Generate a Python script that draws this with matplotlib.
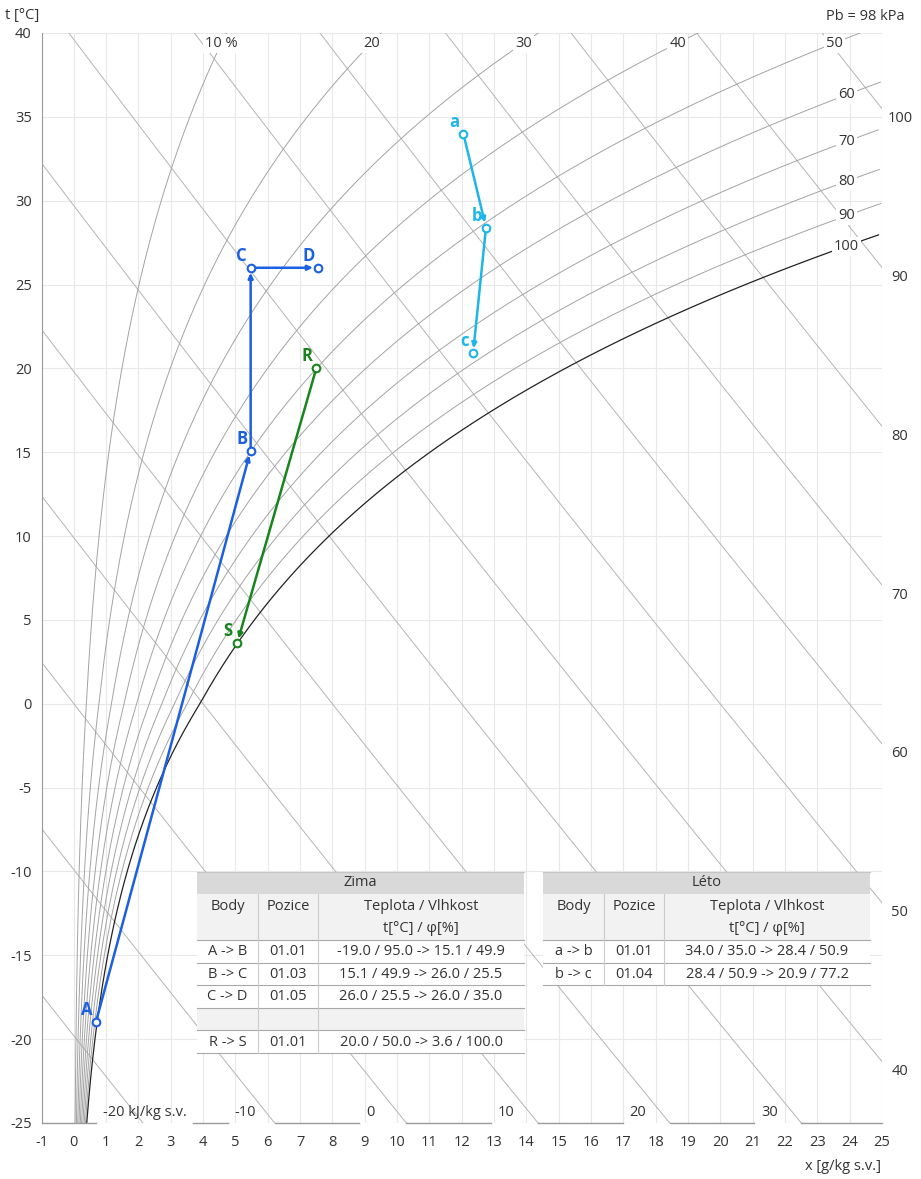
import numpy as np
import matplotlib
matplotlib.use('Agg')
import matplotlib.pyplot as plt
from matplotlib.patches import Rectangle

plt.rcParams['font.family'] = ['Open Sans', 'DejaVu Sans']
plt.rcParams['axes.unicode_minus'] = False

P_B = 98.0  # kPa

# process points: x [g/kg s.v.], t [°C]
zima_names = ['A', 'B', 'C', 'D']
zima_x = [0.68, 5.47, 5.47, 7.55]
zima_t = [-19.0, 15.1, 26.0, 26.0]
rs_names = ['R', 'S']
rs_x = [7.5, 5.05]
rs_t = [20.0, 3.6]
leto_names = ['a', 'b', 'c']
leto_x = [12.05, 12.75, 12.35]
leto_t = [34.0, 28.4, 20.9]

rh_levels = [10, 20, 30, 40, 50, 60, 70, 80, 90, 100]
h_levels = [-20, -10, 0, 10, 20, 30, 40, 50, 60, 70, 80, 90, 100]

x_ticks = list(range(-1, 26))
t_ticks = list(range(-25, 41, 5))

table_head = ['Body', 'Pozice', 'Teplota / Vlhkost\nt[°C] / φ[%]']
zima_rows = [['A -> B', '01.01', '-19.0 / 95.0 -> 15.1 / 49.9'],
             ['B -> C', '01.03', '15.1 / 49.9 -> 26.0 / 25.5'],
             ['C -> D', '01.05', '26.0 / 25.5 -> 26.0 / 35.0'],
             None,
             ['R -> S', '01.01', '20.0 / 50.0 -> 3.6 / 100.0']]
leto_rows = [['a -> b', '01.01', '34.0 / 35.0 -> 28.4 / 50.9'],
             ['b -> c', '01.04', '28.4 / 50.9 -> 20.9 / 77.2']]

BLUE = '#1b5fe3'
GREEN = '#17841c'
CYAN = '#1db6e8'
TXT = '#333333'


def p_sat(t):
    t = np.asarray(t, dtype=float)
    water = 0.61078 * np.exp(17.27 * t / (t + 237.3))
    ice = 0.61078 * np.exp(21.875 * t / (t + 265.5))
    return np.where(t >= 0, water, ice)


def x_of(t, phi):
    pv = phi / 100.0 * p_sat(t)
    return 622.0 * pv / (P_B - pv)


def t_of_h(h, x):
    return (h - 2.501 * x) / (1.01 + 0.00184 * x)


W, H = 921, 1179
fig = plt.figure(figsize=(W / 100, H / 100), dpi=100)
L, R, T, B = 41.5, 882, 33, 1123
ax = fig.add_axes([L / W, 1 - B / H, (R - L) / W, (B - T) / H])
ax.set_xlim(-1, 25)
ax.set_ylim(-25, 40)
ax.set_xticks(x_ticks)
ax.set_yticks(t_ticks)
ax.grid(True, color='#e8e8e8', lw=0.8, zorder=0)
ax.set_axisbelow(True)
ax.tick_params(length=0, labelsize=10.5, colors=TXT)
ax.tick_params(axis='x', pad=9)
ax.tick_params(axis='y', pad=7)
for s in ['top', 'right', 'bottom']:
    ax.spines[s].set_visible(False)
ax.spines['left'].set_color('#9a9a9a')

# relative humidity curves
tt = np.linspace(-25, 40, 800)
for phi in rh_levels:
    xx = x_of(tt, phi)
    m = xx <= 25
    col = '#222222' if phi == 100 else '#a3a3a3'
    ax.plot(xx[m], tt[m], color=col, lw=0.9 if phi == 100 else 0.7, zorder=2)
    t_lab = 39.4
    x_lab = float(x_of(t_lab, phi))
    if x_lab > 23.9:
        x_lab = 23.9
        t_lab = float(np.interp(23.9, xx, tt))
    lab = '10 %' if phi == 10 else str(phi)
    ax.text(x_lab, t_lab, lab, ha='center', va='center', fontsize=10.5,
            color=TXT, zorder=4,
            bbox=dict(fc='white', ec='none', pad=1.5))

# enthalpy lines
xl = np.linspace(-1, 25, 300)
bottom_labels = []
for h in h_levels:
    ax.plot(xl, t_of_h(h, xl), color='#b4b4b4', lw=0.7, zorder=1)
    if h >= 40:
        ax.text(25.55, t_of_h(h, 25) - 0.6, str(h), ha='center', va='center',
                fontsize=10.5, color=TXT, clip_on=False)
    else:
        x_end = (h + 1.01 * 25) / (2.501 - 0.00184 * 25)
        lab = '-20 kJ/kg s.v.' if h == -20 else str(h)
        tx = ax.text(x_end - 1.25, -24.85, lab, ha='left', va='bottom',
                     fontsize=10.5, color=TXT, zorder=4)
        bottom_labels.append((tx, x_end))

# bottom frame line, interrupted at the enthalpy labels
fig.canvas.draw()
inv = ax.transData.inverted()
gaps = []
for tx, x_end in bottom_labels:
    bb = tx.get_window_extent()
    x0 = inv.transform((bb.x0, bb.y0))[0] - 0.2
    x1 = max(inv.transform((bb.x1, bb.y0))[0] + 0.2, x_end)
    gaps.append((x0, x1))
start = -1
for g0, g1 in gaps:
    ax.plot([start, g0], [-25, -25], color='#9a9a9a', lw=1.0,
            clip_on=False, zorder=3)
    start = g1
ax.plot([start, 25], [-25, -25], color='#9a9a9a', lw=1.0, clip_on=False, zorder=3)


def process(xs, ts, names, col):
    for i in range(len(xs) - 1):
        ax.annotate('', xy=(xs[i + 1], ts[i + 1]), xytext=(xs[i], ts[i]),
                    arrowprops=dict(arrowstyle='-|>,head_length=0.3,head_width=0.14',
                                    color=col, lw=1.8, shrinkA=0, shrinkB=3.5),
                    zorder=5)
    ax.plot(xs, ts, 'o', ls='none', mfc='white', mec=col, ms=5.5, mew=1.5, zorder=6)
    for n, x, t in zip(names, xs, ts):
        ax.annotate(n, (x, t), xytext=(-9, 12), textcoords='offset pixels',
                    ha='center', va='center', fontsize=12, fontweight='bold',
                    color=col, zorder=7)


process(zima_x, zima_t, zima_names, BLUE)
process(rs_x, rs_t, rs_names, GREEN)
process(leto_x, leto_t, leto_names, CYAN)

# overlay in pixel coordinates for tables and titles
ov = fig.add_axes([0, 0, 1, 1], zorder=10)
ov.set_xlim(0, W)
ov.set_ylim(H, 0)
ov.axis('off')
ov.patch.set_visible(False)

ov.text(5, 16, 't [°C]', fontsize=10.5, color=TXT, ha='left', va='center')
ov.text(905, 16, 'Pb = 98 kPa', fontsize=10.5, color=TXT, ha='right', va='center')
ov.text(881, 1166, 'x [g/kg s.v.]', fontsize=10.5, color=TXT, ha='right', va='center')


def draw_table(cols, title, rows):
    y0, y1, y2, rh = 872, 894, 940, 22.6
    x0, x3 = cols[0], cols[-1]
    ov.add_patch(Rectangle((x0, y0), x3 - x0, y1 - y0, fc='#d9d9d9', ec='none'))
    ov.add_patch(Rectangle((x0, y1), x3 - x0, y2 - y1, fc='#f2f2f2', ec='none'))
    ov.plot([x0, x3], [y0, y0], color='#c4c4c4', lw=0.8)
    ov.text((x0 + x3) / 2, (y0 + y1) / 2, title, ha='center', va='center',
            fontsize=10.5, color=TXT)
    for j, lab in enumerate(table_head):
        cx = (cols[j] + cols[j + 1]) / 2
        for k, part in enumerate(lab.split('\n')):
            ov.text(cx, 907 + 21 * k, part, ha='center', va='center',
                    fontsize=10.5, color=TXT)
    ov.plot([x0, x3], [y2, y2], color='#a8a8a8', lw=0.8)
    y = y2
    for row in rows:
        fc = '#f2f2f2' if row is None else 'white'
        ov.add_patch(Rectangle((x0, y), x3 - x0, rh, fc=fc, ec='none'))
        if row is not None:
            for j, cell in enumerate(row):
                ov.text((cols[j] + cols[j + 1]) / 2, y + rh / 2 + 0.5, cell,
                        ha='center', va='center', fontsize=10.5, color=TXT)
        y += rh
        ov.plot([x0, x3], [y, y], color='#a8a8a8', lw=0.8)
    for c in cols[1:-1]:
        ov.plot([c, c], [y1, y], color='#cccccc', lw=0.8)


draw_table([197, 258, 318, 524], 'Zima', zima_rows)
draw_table([543, 604, 664, 870], 'Léto', leto_rows)

fig.savefig('out.png', dpi=100)
